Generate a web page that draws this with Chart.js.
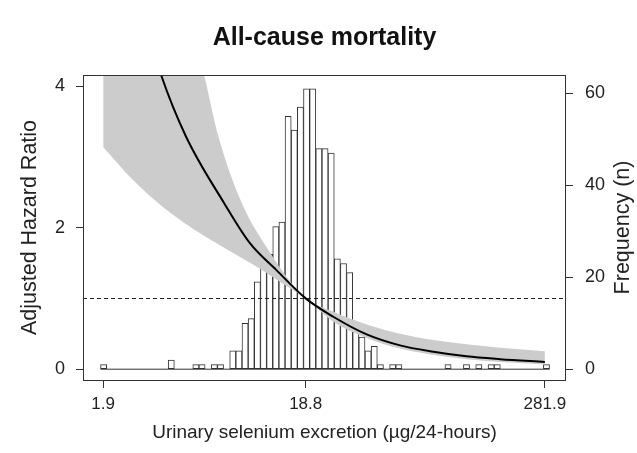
<!DOCTYPE html>
<html>
<head>
<meta charset="utf-8">
<script src="https://cdn.jsdelivr.net/npm/chart.js@4"></script>
<style>
  html, body { margin: 0; padding: 0; background: #fff; }
  #wrap { width: 637px; height: 453px; position: relative; }
</style>
</head>
<body>
<div id="wrap"><canvas id="chart"></canvas></div>
<script>
// Axis ticks
const xTickValues = [1.9, 18.8, 281.9];
const xTickLabels = ['1.9', '18.8', '281.9'];
const hrTicks = [0, 2, 4];
const freqTicks = [0, 20, 40, 60];
const refHR = 1;

// Histogram of urinary selenium (log-spaced bins)
const histStart = 1.844;     // lower edge of first bin
const histRatio = 1.0721;    // bin width as a ratio (log bins)
const freqCounts = [
    1, 0, 0, 0, 0, 0, 0, 0, 0, 0, 0, 2, 0, 0, 0, 1, 1, 0, 1, 1,
    0, 4, 4, 10, 11, 19, 23, 25, 31, 32, 55, 52, 57, 61, 61, 48, 48, 47, 24, 23,
    21, 10, 7, 4, 5, 1, 0, 1, 1, 0, 0, 0, 0, 0, 0, 0, 1, 0, 0, 1,
    0, 1, 0, 1, 1, 0, 0, 0, 0, 0, 0, 0, 1
];

// Hazard ratio curve and confidence band
const curveX = [1.9, 2.6, 3.66, 4.85, 7.46, 10, 13.5, 18.8, 25.7, 37.5, 54.7, 79.8, 116, 170, 281.9];
const curveHR = [7.3, 5.6, 4.16, 3.29, 2.35, 1.78, 1.40, 1.00, 0.74, 0.49, 0.335, 0.245, 0.18, 0.14, 0.10];
const upperX = [1.9, 3.0, 4.5, 5.95, 7.0, 9.12, 12.6, 15.2, 18.8, 25.7, 37.5, 54.7, 79.8, 116, 170, 281.9];
const upperHR = [14, 8.2, 5.4, 4.16, 3.29, 2.35, 1.64, 1.30, 1.0, 0.81, 0.63, 0.50, 0.41, 0.35, 0.30, 0.25];
const lowerX = [1.9, 2.67, 3.9, 5.69, 8.28, 12.1, 15.2, 18.8, 25.7, 37.5, 54.7, 79.8, 116, 170, 281.9];
const lowerHR = [3.14, 2.67, 2.25, 1.92, 1.64, 1.36, 1.17, 1.0, 0.67, 0.44, 0.29, 0.20, 0.14, 0.10, 0.065];

const fontFamily = "'Liberation Sans', Arial, Helvetica, sans-serif";
Chart.defaults.font.family = fontFamily;
Chart.defaults.color = '#222';

const toPoints = (xs, ys) => xs.map((x, i) => ({ x: x, y: ys[i] }));

const histPoints = freqCounts.map((n, i) => ({
    x: histStart * Math.pow(histRatio, i + 0.5),
    y: n
}));
const histEdges = [histStart, histStart * Math.pow(histRatio, freqCounts.length)];

// frame, reference line and right-hand axis title
const extras = {
    id: 'extras',
    afterDatasetsDraw(chart) {
        const { ctx, chartArea: a, scales } = chart;
        const y = Math.round(scales.y.getPixelForValue(refHR)) + 0.5;
        ctx.save();
        ctx.strokeStyle = '#222';
        ctx.lineWidth = 1;
        ctx.setLineDash([4, 3]);
        ctx.beginPath();
        ctx.moveTo(a.left, y);
        ctx.lineTo(a.right, y);
        ctx.stroke();
        ctx.setLineDash([]);
        ctx.strokeStyle = '#333';
        ctx.strokeRect(a.left + 0.5, a.top + 0.5, a.right - a.left - 1, a.bottom - a.top);
        ctx.restore();
    },
    afterDraw(chart) {
        const { ctx, chartArea: a } = chart;
        ctx.save();
        ctx.translate(623, (a.top + a.bottom) / 2);
        ctx.rotate(-Math.PI / 2);
        ctx.font = '21.5px ' + fontFamily;
        ctx.fillStyle = '#222';
        ctx.textAlign = 'center';
        ctx.textBaseline = 'middle';
        ctx.fillText('Frequency (n)', 0, 0);
        ctx.restore();
    }
};

new Chart(document.getElementById('chart').getContext('2d'), {
    data: {
        datasets: [
            {
                type: 'bar',
                data: histPoints,
                yAxisID: 'y2',
                backgroundColor: '#ffffff',
                borderColor: '#333',
                borderWidth: 1,
                borderSkipped: false,
                barPercentage: 1,
                categoryPercentage: 1,
                order: 5
            },
            {
                type: 'line',
                data: toPoints(histEdges, [0, 0]),
                yAxisID: 'y2',
                borderColor: '#333',
                borderWidth: 1,
                pointRadius: 0,
                order: 4
            },
            {
                type: 'line',
                data: toPoints(upperX, upperHR),
                yAxisID: 'y',
                borderWidth: 0,
                pointRadius: 0,
                cubicInterpolationMode: 'monotone',
                backgroundColor: '#cccccc',
                fill: '+1',
                order: 3
            },
            {
                type: 'line',
                data: toPoints(lowerX, lowerHR),
                yAxisID: 'y',
                borderWidth: 0,
                pointRadius: 0,
                cubicInterpolationMode: 'monotone',
                fill: false,
                order: 3
            },
            {
                type: 'line',
                data: toPoints(curveX, curveHR),
                yAxisID: 'y',
                borderColor: '#000',
                borderWidth: 2,
                pointRadius: 0,
                cubicInterpolationMode: 'monotone',
                fill: false,
                order: 1
            }
        ]
    },
    options: {
        responsive: true,
        maintainAspectRatio: false,
        animation: false,
        layout: { padding: 0 },
        plugins: {
            legend: { display: false },
            tooltip: { enabled: false },
            title: {
                display: true,
                text: 'All-cause mortality',
                fullSize: false,
                color: '#111',
                font: { size: 25, weight: 'bold' },
                padding: { top: 23, bottom: 22 }
            }
        },
        scales: {
            x: {
                type: 'logarithmic',
                min: 1.512,
                max: 358,
                offset: false,
                afterBuildTicks: (s) => { s.ticks = xTickValues.map(v => ({ value: v })); },
                afterFit: (s) => { s.height = 73; },
                ticks: {
                    autoSkip: false,
                    maxRotation: 0,
                    padding: 6,
                    font: { size: 17 },
                    callback: (v, i) => xTickLabels[i]
                },
                grid: { drawOnChartArea: false, offset: false, tickLength: 8, color: '#333' },
                border: { display: false },
                title: {
                    display: true,
                    text: 'Urinary selenium excretion (µg/24-hours)',
                    font: { size: 19 },
                    padding: { top: 0, bottom: 9 }
                }
            },
            y: {
                position: 'left',
                min: -0.155,
                max: 4.16,
                afterBuildTicks: (s) => { s.ticks = hrTicks.map(v => ({ value: v })); },
                afterFit: (s) => { s.width = 83; },
                ticks: { padding: 11, font: { size: 18 } },
                grid: { drawOnChartArea: false, tickLength: 7, color: '#333' },
                border: { display: false },
                title: {
                    display: true,
                    text: 'Adjusted Hazard Ratio',
                    font: { size: 21.5 },
                    padding: { top: 17, bottom: 0 }
                }
            },
            y2: {
                position: 'right',
                min: -2.35,
                max: 64,
                afterBuildTicks: (s) => { s.ticks = freqTicks.map(v => ({ value: v })); },
                afterFit: (s) => { s.width = 71; },
                ticks: { padding: 12, font: { size: 18 } },
                grid: { drawOnChartArea: false, tickLength: 7, color: '#333' },
                border: { display: false }
            }
        }
    },
    plugins: [extras]
});
</script>
</body>
</html>
